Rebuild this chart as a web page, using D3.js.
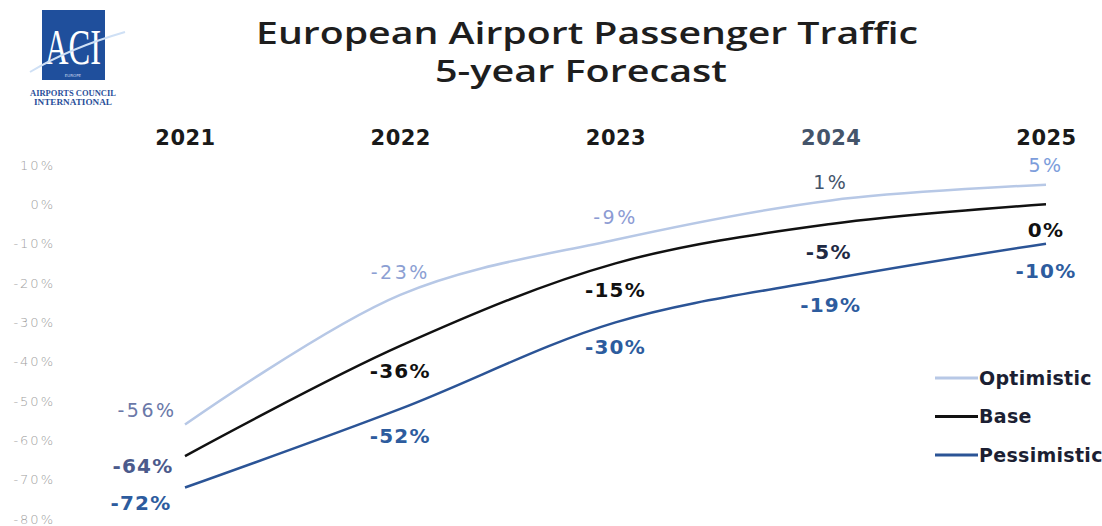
<!DOCTYPE html>
<html><head><meta charset="utf-8">
<script src="https://cdn.jsdelivr.net/npm/d3@7"></script>
<style>body{margin:0;background:#fff;} svg{display:block;}</style>
</head><body>
<svg id="chart" width="1102" height="526"></svg>
<script>
const years = ["2021","2022","2023","2024","2025"];
const optimistic = [-56, -23, -9, 1, 5];
const base = [-64, -36, -15, -5, 0];
const pessimistic = [-72, -52, -30, -19, -10];
const yTicks = [10, 0, -10, -20, -30, -40, -50, -60, -70, -80];
const seriesNames = ["Optimistic", "Base", "Pessimistic"];

const svg = d3.select("#chart");
const x = d3.scalePoint().domain(years).range([185, 1046]);
const y = d3.scaleLinear().domain([-80, 10]).range([519, 165]);

// logo
const logo = svg.append("g");
logo.append("rect").attr("x", 42).attr("y", 10).attr("width", 63).attr("height", 70).attr("fill", "#1f4f9c");
logo.append("text").attr("x", 73).attr("y", 64).attr("text-anchor", "middle")
  .attr("font-family", "Liberation Serif").attr("font-size", 50).attr("fill", "#fff")
  .attr("textLength", 56).attr("lengthAdjust", "spacingAndGlyphs").text("ACI");
logo.append("path").attr("d", "M30,72 Q70,48 125,32").attr("stroke", "#cfe0f5").attr("stroke-width", 2).attr("fill", "none");
logo.append("text").attr("x", 73).attr("y", 77).attr("text-anchor", "middle")
  .attr("font-family", "DejaVu Sans").attr("font-size", 4).attr("fill", "#c8d6ee").text("EUROPE");
logo.append("text").attr("x", 73).attr("y", 96).attr("text-anchor", "middle")
  .attr("font-family", "Liberation Serif").attr("font-weight", "bold").attr("font-size", 8).attr("fill", "#2a4f9a")
  .attr("textLength", 86).attr("lengthAdjust", "spacingAndGlyphs").text("AIRPORTS COUNCIL");
logo.append("text").attr("x", 73).attr("y", 105).attr("text-anchor", "middle")
  .attr("font-family", "Liberation Serif").attr("font-weight", "bold").attr("font-size", 8).attr("fill", "#2a4f9a")
  .attr("textLength", 78).attr("lengthAdjust", "spacingAndGlyphs").text("INTERNATIONAL");

// title
svg.append("text").attr("x", 587).attr("y", 44).attr("text-anchor", "middle")
  .attr("font-family", "Open Sans").attr("font-weight", 600).attr("font-size", 30).attr("fill", "#1e1e1e")
  .attr("textLength", 662).attr("lengthAdjust", "spacingAndGlyphs").text("European Airport Passenger Traffic");
svg.append("text").attr("x", 581).attr("y", 82).attr("text-anchor", "middle")
  .attr("font-family", "Open Sans").attr("font-weight", 600).attr("font-size", 30).attr("fill", "#1e1e1e")
  .attr("textLength", 292).attr("lengthAdjust", "spacingAndGlyphs").text("5-year Forecast");

// y axis labels
const yAxis = d3.axisLeft(y).tickValues(yTicks).tickSize(0).tickPadding(0).tickFormat(d => d + "%");
const gy = svg.append("g").attr("transform", "translate(55,0)").call(yAxis);
gy.select(".domain").remove();
gy.selectAll("text").attr("font-family", "DejaVu Sans").attr("font-size", 13).attr("fill", "#a0a0a0")
  .attr("letter-spacing", 2).attr("font-weight", "300");

// year labels (top axis)
const xAxis = d3.axisTop(x).tickSize(0).tickPadding(0);
const gx = svg.append("g").attr("transform", "translate(0,145)").call(xAxis);
gx.select(".domain").remove();
gx.selectAll("text").attr("font-family", "DejaVu Sans").attr("font-weight", "bold").attr("font-size", 21)
  .attr("letter-spacing", 0.5)
  .attr("fill", d => d === "2024" ? "#44546a" : "#1a1a1a");

const series = [
  {name: seriesNames[0], values: optimistic, color: "#b7c8e6", width: 2.5,
   labelColors: ["#6a78a8", "#8c9fd3", "#8c9bd3", "#44546a", "#7c9ddb"], weight: "normal", dy: [-14, -22, -22, -18, -19], dx: [-38, 0, 0, 0, 0]},
  {name: seriesNames[1], values: base, color: "#111111", width: 2.5,
   labelColors: ["#4b5a8c", "#111", "#111", "#1f2a44", "#111"], weight: "bold", dy: [10, 25, 27, 28, 26], dx: [-42, 0, 0, -2, 0]},
  {name: seriesNames[2], values: pessimistic, color: "#2b5496", width: 2.5,
   labelColors: ["#2d5c9e", "#2d5c9e", "#2d5c9e", "#2d5c9e", "#2d5c9e"], weight: "bold", dy: [15, 27, 25, 26, 27], dx: [-44, 0, 0, 0, 0]}
];

const line = d3.line().x((d, i) => x(years[i])).y(d => y(d)).curve(d3.curveCatmullRom.alpha(0.5));

series.forEach(s => {
  svg.append("path").datum(s.values).attr("d", line).attr("fill", "none")
    .attr("stroke", s.color).attr("stroke-width", s.width);
});

series.forEach(s => {
  svg.selectAll(null).data(s.values).enter().append("text")
    .attr("x", (d, i) => x(years[i]) + s.dx[i])
    .attr("y", (d, i) => y(d) + s.dy[i])
    .attr("dy", "0.35em")
    .attr("text-anchor", "middle")
    .attr("font-family", "DejaVu Sans")
    .attr("font-weight", s.weight)
    .attr("font-size", s.weight === "normal" ? 19 : 20)
    .attr("letter-spacing", s.weight === "normal" ? 2.5 : 1.2)
    .attr("fill", (d, i) => s.labelColors[i])
    .text(d => d + "%");
});

// legend
const lg = svg.append("g");
series.forEach((s, i) => {
  const ly = 378 + i * 38.5;
  lg.append("line").attr("x1", 935).attr("x2", 978).attr("y1", ly).attr("y2", ly)
    .attr("stroke", s.color).attr("stroke-width", 3);
  lg.append("text").attr("x", 979).attr("y", ly).attr("dy", "0.35em")
    .attr("font-family", "DejaVu Sans").attr("font-weight", "bold").attr("font-size", 19)
    .attr("letter-spacing", 0.3)
    .attr("fill", "#1c1f33").text(s.name);
});
</script>
</body></html>
